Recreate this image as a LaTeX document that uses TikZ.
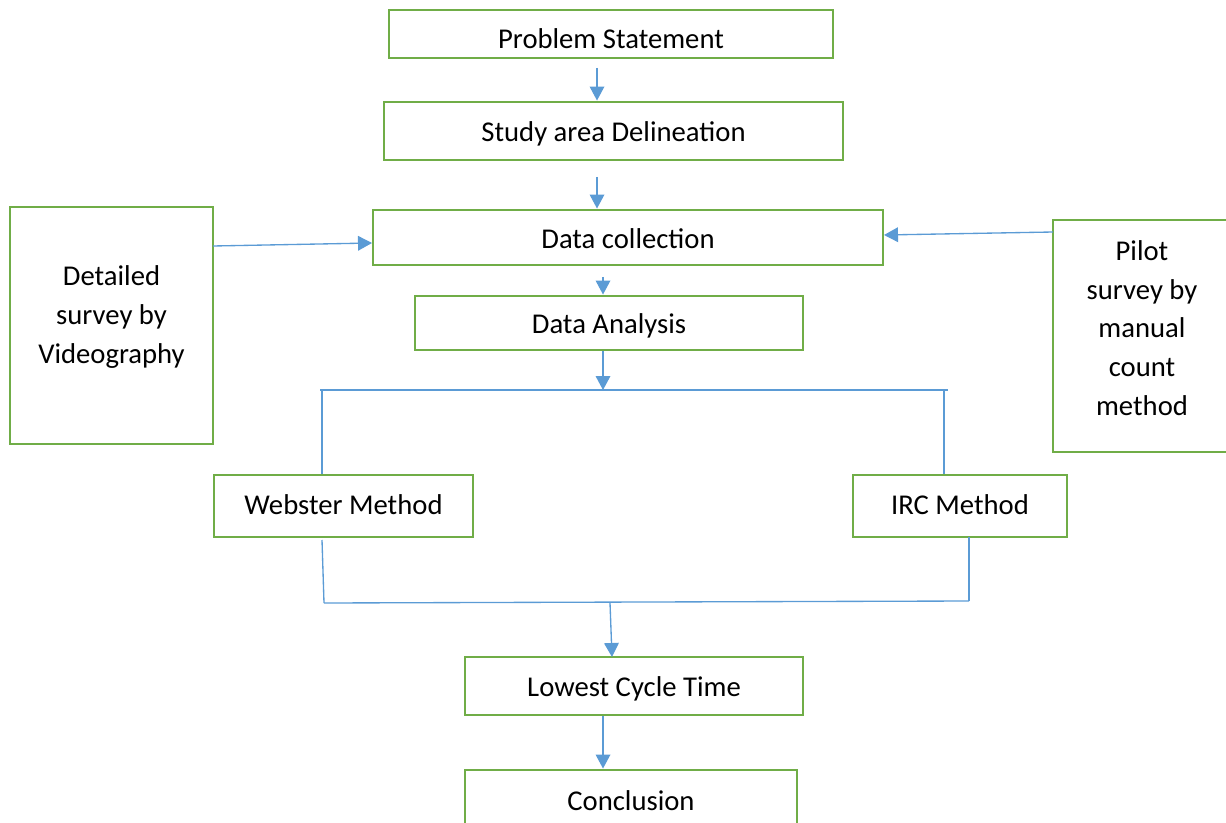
\documentclass[tikz,border=0pt]{standalone}
\usepackage{fontspec}
\setmainfont{Carlito}
\usetikzlibrary{arrows.meta}
\definecolor{boxgreen}{RGB}{112,173,71}
\definecolor{lineblue}{RGB}{91,155,213}
\tikzset{
  box/.style={draw=boxgreen, line width=2.2pt, inner sep=0pt},
  lbl/.style={font=\fontsize{21.5}{29}\selectfont, align=center, inner sep=0pt},
  one/.style={lbl, text height=16.4pt, text depth=0pt},
  arr/.style={draw=lineblue, line width=1pt, -{Triangle[length=10.5pt,width=11pt]}},
  ln/.style={draw=lineblue, line width=1pt},
}
\begin{document}
\begin{tikzpicture}[x=0.75pt,y=-0.75pt]
\useasboundingbox (0,0) rectangle (1226,823);
% boxes
\node[box, minimum width=444*0.75pt, minimum height=48*0.75pt] (ps) at (611,34) {};
\node[lbl] (pst) at (611,39) {Problem Statement};
\node[box, one, minimum width=459*0.75pt, minimum height=58*0.75pt] (sad) at (613.5,131) {Study area Delineation};
\node[box, one, minimum width=510*0.75pt, minimum height=55*0.75pt] (dc) at (628,237.5) {Data collection};
\node[box, one, minimum width=388*0.75pt, minimum height=54*0.75pt] (da) at (609,323) {Data Analysis};
\node[box, minimum width=203*0.75pt, minimum height=237*0.75pt] (ds) at (111.5,325.5) {};
\node[lbl] (dst) at (111.5,317) {Detailed\\survey by\\Videography};
\node[box, minimum width=183*0.75pt, minimum height=232*0.75pt] (pl) at (1144.5,336) {};
\node[lbl] (plt) at (1142,328) {Pilot\\survey by\\manual\\count\\method};
\node[box, one, text height=12pt, minimum width=259*0.75pt, minimum height=62*0.75pt] (wm) at (343.5,506) {Webster Method};
\node[box, one, text height=12pt, minimum width=214*0.75pt, minimum height=62*0.75pt] (irc) at (960,506) {IRC Method};
\node[box, one, minimum width=338*0.75pt, minimum height=58*0.75pt] (lct) at (634,686) {Lowest Cycle Time};
\node[box, minimum width=332*0.75pt, minimum height=60*0.75pt] (con) at (631,800) {};
\node[lbl] (cont) at (631,801) {Conclusion};
% connector points
\coordinate (a1) at (597,68);
\coordinate (a2) at (597,177);
\coordinate (a3) at (603,277);
\coordinate (dsout) at (213,246);
\coordinate (dcinL) at (372,243);
\coordinate (plout) at (1053,232);
\coordinate (dcinR) at (884,235);
\coordinate (br) at (603,390);
\coordinate (bL) at (320,390);
\coordinate (bR) at (948,390);
\coordinate (vL) at (322,390);
\coordinate (vR) at (944,390);
\coordinate (wmb) at (322,540);
\coordinate (jL) at (324,603);
\coordinate (ircb) at (969,537);
\coordinate (jR) at (969,601);
\coordinate (jm) at (610,603);
\coordinate (a5) at (603,716);
% connectors
\draw[arr] (a1) -- (a1 |- sad.north);
\draw[arr] (a2) -- (a2 |- dc.north);
\draw[arr] (dsout) -- (dcinL);
\draw[arr] (plout) -- (dcinR);
\draw[arr] (a3) -- (a3 |- da.north);
\draw[arr] (da.south -| br) -- (br);
\draw[ln] (bL) -- (bR);
\draw[ln] (vL) -- (vL |- wm.north);
\draw[ln] (vR) -- (vR |- irc.north);
\draw[ln] (wmb) -- (jL);
\draw[ln] (ircb) -- (jR);
\draw[ln] (jL) -- (jR);
\draw[arr] (jm) -- (612,657) coordinate (lctin);
\draw[arr] (a5) -- (a5 |- con.north);
\end{tikzpicture}
\end{document}
